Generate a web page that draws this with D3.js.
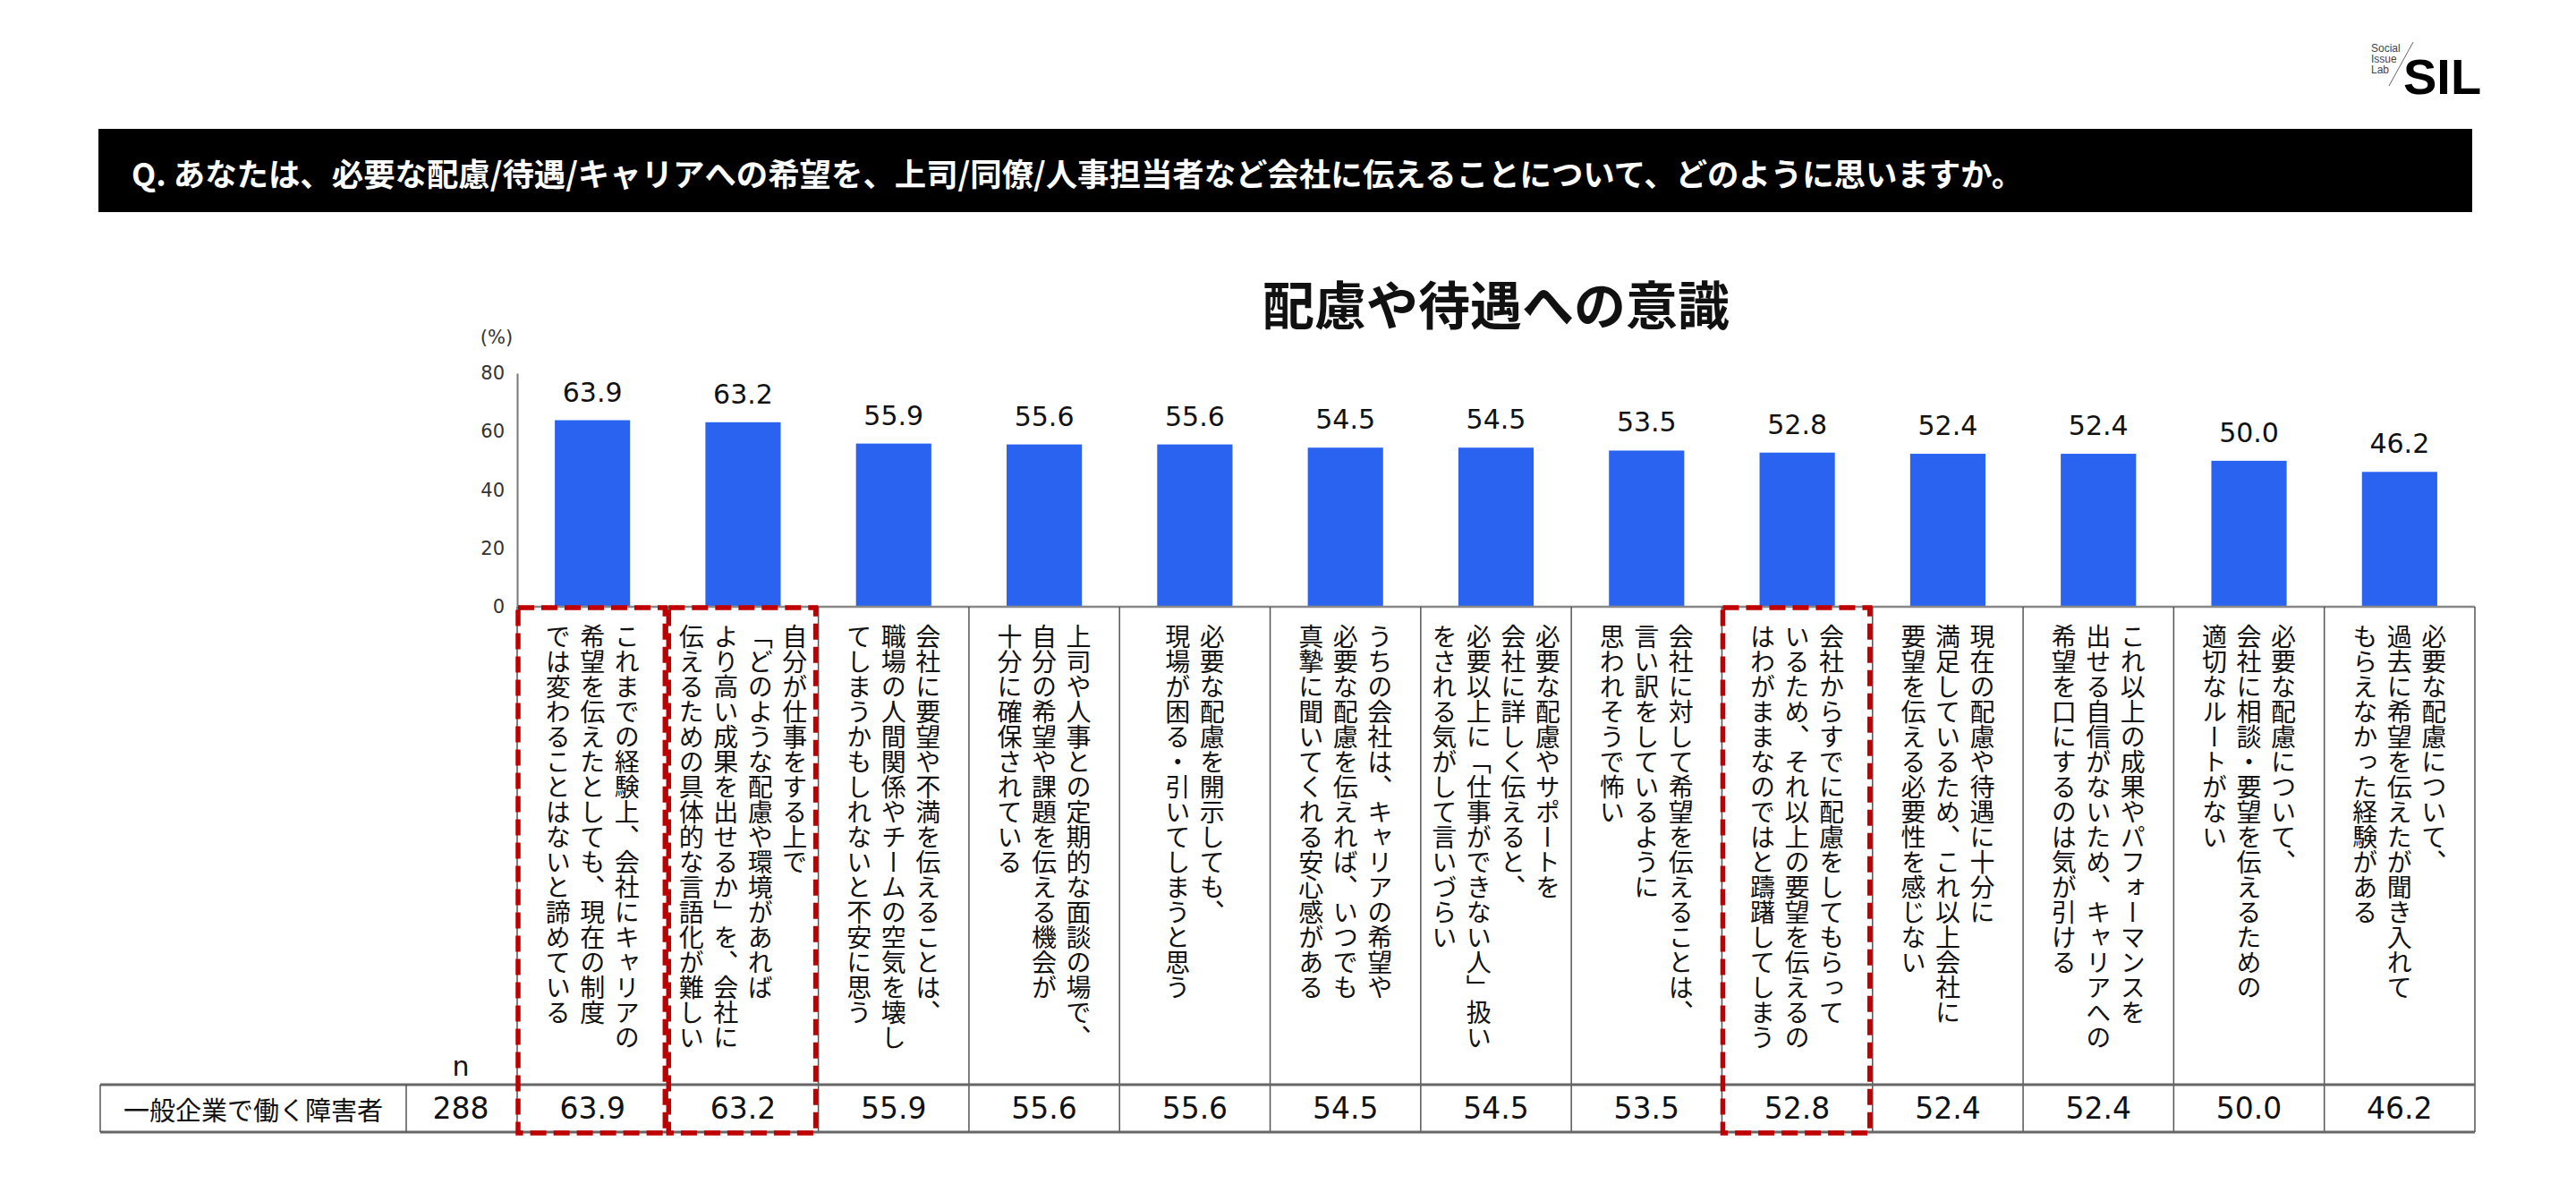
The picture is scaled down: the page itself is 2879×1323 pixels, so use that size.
<!DOCTYPE html>
<html>
<head>
<meta charset="utf-8">
<script src="https://cdn.jsdelivr.net/npm/d3@7"></script>
<style>
  body { margin: 0; background: #fff; }
  svg { display: block; }
</style>
</head>
<body>
<svg id="chart" width="2879" height="1323"></svg>
<script>
// data
const question = "Q. あなたは、必要な配慮/待遇/キャリアへの希望を、上司/同僚/人事担当者など会社に伝えることについて、どのように思いますか。";
const chartTitle = "配慮や待遇への意識";
const categories = [
  "これまでの経験上、会社にキャリアの\n希望を伝えたとしても、現在の制度\nでは変わることはないと諦めている",
  "自分が仕事をする上で\n「どのような配慮や環境があれば\nより高い成果を出せるか」を、会社に\n伝えるための具体的な言語化が難しい",
  "会社に要望や不満を伝えることは、\n職場の人間関係やチームの空気を壊し\nてしまうかもしれないと不安に思う",
  "上司や人事との定期的な面談の場で、\n自分の希望や課題を伝える機会が\n十分に確保されている",
  "必要な配慮を開示しても、\n現場が困る・引いてしまうと思う",
  "うちの会社は、キャリアの希望や\n必要な配慮を伝えれば、いつでも\n真摯に聞いてくれる安心感がある",
  "必要な配慮やサポートを\n会社に詳しく伝えると、\n必要以上に「仕事ができない人」扱い\nをされる気がして言いづらい",
  "会社に対して希望を伝えることは、\n言い訳をしているように\n思われそうで怖い",
  "会社からすでに配慮をしてもらって\nいるため、それ以上の要望を伝えるの\nはわがままなのではと躊躇してしまう",
  "現在の配慮や待遇に十分に\n満足しているため、これ以上会社に\n要望を伝える必要性を感じない",
  "これ以上の成果やパフォーマンスを\n出せる自信がないため、キャリアへの\n希望を口にするのは気が引ける",
  "必要な配慮について、\n会社に相談・要望を伝えるための\n適切なルートがない",
  "必要な配慮について、\n過去に希望を伝えたが聞き入れて\nもらえなかった経験がある"
];
const values = [63.9, 63.2, 55.9, 55.6, 55.6, 54.5, 54.5, 53.5, 52.8, 52.4, 52.4, 50.0, 46.2];
const groupLabel = "一般企業で働く障害者";
const sampleSize = 288;
const highlighted = [0, 1, 8];
const yTicks = [0, 20, 40, 60, 80];

const jp = "'Noto Sans CJK JP', 'Noto Sans', sans-serif";
const num = "'DejaVu Sans', sans-serif";
const barColor = "#2b63f1";
const red = "#c00000";

const svg = d3.select("#chart");

// layout
const left = 578, right = 2766;
const yTop = 417, yBase = 678;
const rowTop = 1212, rowBottom = 1265;

const idx = d3.range(categories.length);
const x = d3.scaleBand().domain(idx).range([left, right]).paddingInner(0.5).paddingOuter(0.25);
const xCol = d3.scaleBand().domain(idx).range([left, right]).padding(0);
const y = d3.scaleLinear().domain([0, 80]).range([yBase, yTop]);

// logo
const logo = svg.append("g");
["Social", "Issue", "Lab"].forEach((t, i) => {
  logo.append("text").attr("x", 2650).attr("y", 58 + i * 12)
    .style("font-family", "'Liberation Sans', Arial, sans-serif").style("font-size", "12px").style("fill", "#444").text(t);
});
logo.append("line").attr("x1", 2697).attr("y1", 47).attr("x2", 2670).attr("y2", 96)
  .style("stroke", "#666").style("stroke-width", 1);
logo.append("text").attr("x", 2686).attr("y", 105)
  .style("font-family", "'Liberation Sans', Arial, sans-serif").style("font-weight", "bold")
  .style("font-size", "56px").style("fill", "#000").text("SIL");

// question banner
svg.append("rect").attr("x", 110).attr("y", 144).attr("width", 2653).attr("height", 93).style("fill", "#000");
svg.append("text").attr("x", 147).attr("y", 192).attr("dominant-baseline", "central")
  .style("font-family", jp).style("font-weight", "bold").style("font-size", "35.4px").style("fill", "#fff")
  .text(question);

// chart title
svg.append("text").attr("x", (left + right) / 2).attr("y", 338).attr("text-anchor", "middle")
  .attr("dominant-baseline", "central")
  .style("font-family", jp).style("font-weight", "bold").style("font-size", "58px").style("fill", "#111")
  .text(chartTitle);

// y axis
const yAxis = svg.append("g").attr("transform", `translate(${left},0)`)
  .call(d3.axisLeft(y).tickValues(yTicks).tickSize(0).tickPadding(14));
yAxis.select(".domain").style("stroke", "#777").style("stroke-width", 2);
yAxis.selectAll("text").style("font-family", num).style("font-size", "21px").style("fill", "#333");
svg.append("text").attr("x", 555).attr("y", 377).attr("text-anchor", "middle").attr("dominant-baseline", "central")
  .style("font-family", num).style("font-size", "21px").style("fill", "#333").text("(%)");

// bars
svg.selectAll(".bar").data(values).enter().append("rect")
  .attr("class", "bar")
  .attr("x", (d, i) => x(i)).attr("width", x.bandwidth())
  .attr("y", d => y(d)).attr("height", d => y(0) - y(d))
  .style("fill", barColor);

svg.selectAll(".vlabel").data(values).enter().append("text")
  .attr("class", "vlabel")
  .attr("x", (d, i) => x(i) + x.bandwidth() / 2).attr("y", d => y(d) - 21)
  .attr("text-anchor", "middle")
  .style("font-family", num).style("font-size", "30px").style("fill", "#111")
  .text(d => d.toFixed(1));

// table grid
const grid = svg.append("g").style("stroke", "#555").style("fill", "none");
grid.append("line").attr("x1", left).attr("x2", right).attr("y1", yBase).attr("y2", yBase)
  .style("stroke", "#888").style("stroke-width", 2.5);
grid.selectAll(".vline").data(d3.range(categories.length + 1)).enter().append("line")
  .attr("x1", i => left + i * xCol.step()).attr("x2", i => left + i * xCol.step())
  .attr("y1", yBase).attr("y2", rowBottom).style("stroke-width", 1.5);
grid.append("line").attr("x1", 112).attr("x2", right).attr("y1", rowTop).attr("y2", rowTop)
  .style("stroke", "#666").style("stroke-width", 3);
grid.append("line").attr("x1", 112).attr("x2", right).attr("y1", rowBottom).attr("y2", rowBottom)
  .style("stroke", "#666").style("stroke-width", 3);
grid.append("line").attr("x1", 112).attr("x2", 112).attr("y1", rowTop).attr("y2", rowBottom).style("stroke-width", 1.5);
grid.append("line").attr("x1", 454).attr("x2", 454).attr("y1", rowTop).attr("y2", rowBottom).style("stroke-width", 1.5);

// vertical category labels
const lineGap = 38.5;
categories.forEach((c, i) => {
  const lines = c.split("\n");
  const cx = xCol(i) + xCol.bandwidth() / 2;
  lines.forEach((ln, j) => {
    svg.append("text")
      .attr("x", cx + ((lines.length - 1) / 2 - j) * lineGap)
      .attr("y", 697)
      .style("writing-mode", "vertical-rl")
      .style("font-family", jp).style("font-size", "28px").style("fill", "#111")
      .text(ln);
  });
});

// table row
svg.append("text").attr("x", 283).attr("y", rowTop + (rowBottom - rowTop) / 2).attr("text-anchor", "middle")
  .attr("dominant-baseline", "central")
  .style("font-family", jp).style("font-size", "29px").style("fill", "#111").text(groupLabel);
svg.append("text").attr("x", 515).attr("y", 1202).attr("text-anchor", "middle")
  .style("font-family", num).style("font-size", "30px").style("fill", "#111").text("n");
svg.append("text").attr("x", 515).attr("y", rowTop + (rowBottom - rowTop) / 2).attr("text-anchor", "middle")
  .attr("dominant-baseline", "central")
  .style("font-family", num).style("font-size", "33px").style("fill", "#111").text(sampleSize);
svg.selectAll(".tval").data(values).enter().append("text")
  .attr("class", "tval")
  .attr("x", (d, i) => xCol(i) + xCol.bandwidth() / 2).attr("y", rowTop + (rowBottom - rowTop) / 2)
  .attr("text-anchor", "middle").attr("dominant-baseline", "central")
  .style("font-family", num).style("font-size", "33px").style("fill", "#111")
  .text(d => d.toFixed(1));

// highlight boxes
svg.selectAll(".hl").data(highlighted).enter().append("rect")
  .attr("class", "hl")
  .attr("x", i => xCol(i) + 1).attr("width", xCol.bandwidth() - 4)
  .attr("y", 679).attr("height", 587)
  .style("fill", "none").style("stroke", red).style("stroke-width", 5.5)
  .style("stroke-dasharray", "18,8");
</script>
</body>
</html>
